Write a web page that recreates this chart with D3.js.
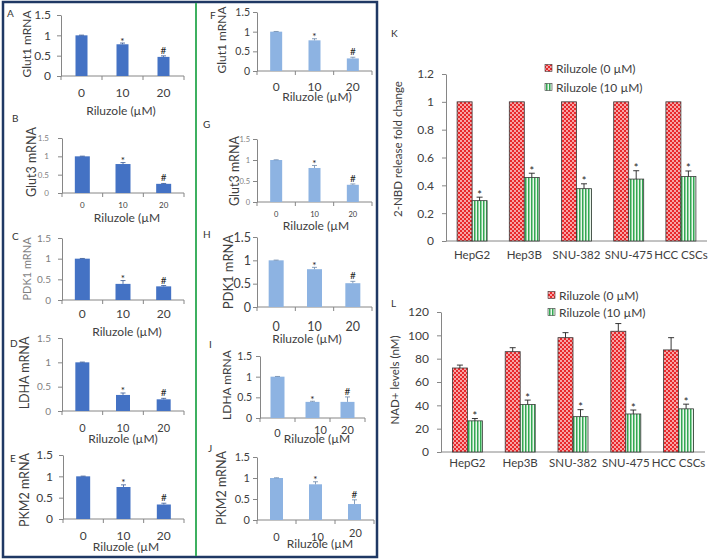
<!DOCTYPE html>
<html>
<head>
<meta charset="utf-8">
<script src="https://cdn.jsdelivr.net/npm/d3@7"></script>
<style>
  body { margin: 0; background: #fff; }
  svg { display: block; font-family: Lato, "Liberation Sans", sans-serif; }
</style>
</head>
<body>
<svg id="fig" width="709" height="559"></svg>
<script>
// x categories of the mRNA panels
var doses = ["0", "10", "20"];
var sigMarks = ["", "*", "#"];

// mRNA fold values, panels A-E (left column)
var glut1A = [1, 0.78, 0.47], glut1AErr = [0.005, 0.03, 0.025];
var glut3B = [1, 0.79, 0.25], glut3BErr = [0.005, 0.04, 0.01];
var pdk1C = [1, 0.39, 0.33], pdk1CErr = [0.005, 0.08, 0.02];
var ldhaD = [1, 0.33, 0.24], ldhaDErr = [0.005, 0.04, 0.02];
var pkm2E = [1, 0.75, 0.34], pkm2EErr = [0.005, 0.05, 0.03];

// panels F-J (right column)
var glut1F = [1, 0.78, 0.32], glut1FErr = [0.005, 0.04, 0.03];
var glut3G = [1, 0.81, 0.41], glut3GErr = [0.005, 0.06, 0.02];
var pdk1H = [1, 0.81, 0.51], pdk1HErr = [0.005, 0.04, 0.04];
var ldhaI = [1, 0.39, 0.39], ldhaIErr = [0.005, 0.015, 0.12];
var pkm2J = [1, 0.85, 0.38], pkm2JErr = [0.005, 0.06, 0.1];

var mrnaTicks = [0, 0.5, 1, 1.5];

// panels K and L
var cells = ["HepG2", "Hep3B", "SNU-382", "SNU-475", "HCC CSCs"];
var seriesNames = ["Riluzole (0 \u00b5M)", "Riluzole (10 \u00b5M)"];
var nbdCtrl = [1, 1, 1, 1, 1], nbdCtrlErr = [0, 0, 0, 0, 0];
var nbdRil = [0.29, 0.457, 0.376, 0.445, 0.463], nbdRilErr = [0.025, 0.03, 0.035, 0.06, 0.04];
var nbdTicks = [0, 0.2, 0.4, 0.6, 0.8, 1, 1.2];
var nadCtrl = [72, 86, 98, 103.5, 87.5], nadCtrlErr = [2.5, 3.4, 4.3, 6.6, 10.5];
var nadRil = [26.7, 40.8, 30.3, 32.6, 37], nadRilErr = [2, 3.7, 6, 3.4, 4];
var nadTicks = [0, 20, 40, 60, 80, 100, 120];

var BLUE = "#4472c4", LIGHT = "#8db3e2", AXIS = "#868686";
var DARK = "#404040", GRAY = "#7f7f7f";

var svg = d3.select("#fig");

// bar fill patterns for K and L
var defs = svg.append("defs");
var pr = defs.append("pattern").attr("id", "redDots").attr("patternUnits", "userSpaceOnUse")
    .attr("width", 4).attr("height", 4);
pr.append("rect").attr("width", 4).attr("height", 4).attr("fill", "#e8282b");
pr.append("circle").attr("cx", 1).attr("cy", 1).attr("r", 0.9).attr("fill", "#ffe0e0");
pr.append("circle").attr("cx", 3).attr("cy", 3).attr("r", 0.9).attr("fill", "#ffe0e0");
var pg = defs.append("pattern").attr("id", "greenLines").attr("patternUnits", "userSpaceOnUse")
    .attr("width", 3).attr("height", 3);
pg.append("rect").attr("width", 3).attr("height", 3).attr("fill", "#eaf7ec");
pg.append("rect").attr("width", 1.5).attr("height", 3).attr("fill", "#33a852");

// frame around A-J and the green divider
svg.append("rect").attr("x", 3).attr("y", 2).attr("width", 374).attr("height", 555)
    .attr("fill", "none").attr("stroke", "#1f3864").attr("stroke-width", 2.5);
svg.append("line").attr("x1", 196).attr("x2", 196).attr("y1", 3).attr("y2", 556)
    .attr("stroke", "#3db060").attr("stroke-width", 2);

var smallPanels = [
    {id: "A", vals: glut1A, err: glut1AErr, ylab: "Glut1 mRNA", color: BLUE,
     lx: 7, ly: 17, x0: 61, x1: 184, y0: 76, y15: 15, bw: 12, ytf: 12, tpad: 6, ytCol: DARK,
     ylx: 27, yly: 44, yfs: 12, ylCol: DARK, xtf: 12, xty: 97, xlab: "Riluzole (\u00b5M)", xlx: 121, xly: 115},
    {id: "B", vals: glut3B, err: glut3BErr, ylab: "Glut3 mRNA", color: BLUE,
     lx: 12, ly: 122, x0: 62, x1: 184, y0: 193, y15: 138, bw: 15, ytf: 8, tpad: 9, ytCol: GRAY,
     ylx: 32, yly: 162, yfs: 12.5, ylCol: DARK, xtf: 8, xty: 208, xlab: "Riluzole (\u00b5M", xlx: 127, xly: 222},
    {id: "C", vals: pdk1C, err: pdk1CErr, ylab: "PDK1 mRNA", color: BLUE,
     lx: 12, ly: 240, x0: 62, x1: 184, y0: 300, y15: 238, bw: 15, ytf: 10, tpad: 7, ytCol: GRAY,
     ylx: 27, yly: 269, yfs: 11, ylCol: GRAY, xtf: 12, xty: 318, xlab: "Riluzole (\u00b5M)", xlx: 127, xly: 336},
    {id: "D", vals: ldhaD, err: ldhaDErr, ylab: "LDHA mRNA", color: BLUE,
     lx: 10, ly: 347, x0: 62, x1: 184, y0: 411, y15: 338, bw: 14, ytf: 10, tpad: 7, ytCol: GRAY,
     ylx: 25, yly: 373, yfs: 12.5, ylCol: DARK, xtf: 11, xty: 432, xlab: "Riluzole (\u00b5M)", xlx: 123, xly: 443},
    {id: "E", vals: pkm2E, err: pkm2EErr, ylab: "PKM2 mRNA", color: BLUE,
     lx: 10, ly: 462, x0: 63, x1: 184, y0: 519, y15: 455, bw: 14, ytf: 12, tpad: 6, ytCol: DARK,
     ylx: 25, yly: 490, yfs: 12.5, ylCol: DARK, xtf: 12, xty: 540, xlab: "Riluzole (\u00b5M", xlx: 126, xly: 551},
    {id: "F", vals: glut1F, err: glut1FErr, ylab: "Glut1 mRNA", color: LIGHT,
     lx: 210, ly: 19, x0: 257, x1: 372, y0: 71, y15: 12, bw: 12, ytf: 10.5, tpad: 3, ytCol: DARK,
     ylx: 222, yly: 40, yfs: 12, ylCol: DARK, xtf: 12, xty: 91, xlab: "Riluzole (\u00b5M)", xlx: 317, xly: 101},
    {id: "G", vals: glut3G, err: glut3GErr, ylab: "Glut3 mRNA", color: LIGHT,
     lx: 203, ly: 128, x0: 257, x1: 372, y0: 202, y15: 139, bw: 12, ytf: 7.5, tpad: 3, ytCol: GRAY,
     ylx: 235, yly: 171, yfs: 12.5, ylCol: DARK, xtf: 7.5, xty: 217, xlab: "Riluzole (\u00b5M", xlx: 316, xly: 230},
    {id: "H", vals: pdk1H, err: pdk1HErr, ylab: "PDK1 mRNA", color: LIGHT,
     lx: 203, ly: 238, x0: 257, x1: 372, y0: 307, y15: 237, bw: 15, ytf: 12.5, tpad: 2, ytCol: DARK,
     ylx: 228, yly: 272, yfs: 13, ylCol: DARK, xtf: 12.5, xty: 331, xlab: "Riluzole (\u00b5M)", xlx: 307, xly: 343},
    {id: "I", vals: ldhaI, err: ldhaIErr, ylab: "LDHA mRNA", color: LIGHT,
     lx: 209, ly: 348, x0: 260, x1: 365, y0: 418, y15: 356, bw: 14, ytf: 10.5, tpad: 4, ytCol: DARK,
     ylx: 227, yly: 385, yfs: 12, ylCol: DARK, xtf: 11, xty: 437, xtdx: [0, 8, 0], xtdy: [0, -3, -3],
     xlab: "Riluzole (\u00b5M", xlx: 317, xly: 443},
    {id: "J", vals: pkm2J, err: pkm2JErr, ylab: "PKM2 mRNA", color: LIGHT,
     lx: 208, ly: 452, x0: 257, x1: 374, y0: 520, y15: 457, bw: 13, ytf: 11, tpad: 3, ytCol: DARK,
     ylx: 222, yly: 488, yfs: 12.5, ylCol: DARK, xtf: 11, xty: 541, xtdx: [0, 2, 1], xtdy: [0, 0, -4],
     xlab: "Riluzole (\u00b5M", xlx: 320, xly: 548}
];

function styleAxis(ax, fs, col) {
    ax.attr("font-family", null).attr("font-size", null);
    ax.select(".domain").attr("stroke", AXIS);
    ax.selectAll(".tick line").attr("stroke", AXIS);
    ax.selectAll(".tick text").attr("fill", col).style("font-size", fs + "px");
}

function markY(m, top) {
    // '*' sits high in the em box, '#' sits on the baseline
    return m === "*" ? top + 1.5 : top - 2;
}

function drawSmall(p) {
    var g = svg.append("g");
    var x = d3.scaleBand().domain(doses).range([p.x0, p.x1]);
    var y = d3.scaleLinear().domain([0, 1.5]).range([p.y0, p.y15]);
    var dark = d3.color(p.color).darker(0.8);

    g.append("text").attr("x", p.lx).attr("y", p.ly).attr("fill", "#333")
        .style("font-size", "10px").text(p.id);

    var ya = g.append("g").attr("transform", "translate(" + p.x0 + ",0)")
        .call(d3.axisLeft(y).tickValues(mrnaTicks).tickFormat(function (d) { return String(d); })
            .tickSize(4).tickSizeOuter(0).tickPadding(p.tpad));
    styleAxis(ya, p.ytf, p.ytCol);

    // x axis line with ticks on the band edges
    g.append("line").attr("x1", p.x0).attr("x2", p.x1).attr("y1", p.y0).attr("y2", p.y0)
        .attr("stroke", AXIS);
    g.selectAll(".xt").data(d3.range(doses.length + 1)).enter().append("line")
        .attr("x1", function (i) { return p.x0 + i * x.step(); })
        .attr("x2", function (i) { return p.x0 + i * x.step(); })
        .attr("y1", p.y0).attr("y2", p.y0 + 4).attr("stroke", AXIS);

    g.selectAll(".xl").data(doses).enter().append("text")
        .attr("x", function (d, i) { return x(d) + x.bandwidth() / 2 + (p.xtdx ? p.xtdx[i] : 0); })
        .attr("y", function (d, i) { return p.xty + (p.xtdy ? p.xtdy[i] : 0); })
        .attr("text-anchor", "middle").attr("fill", DARK).style("font-size", p.xtf + "px")
        .text(function (d) { return d; });

    g.selectAll(".bar").data(p.vals).enter().append("rect")
        .attr("x", function (d, i) { return x(doses[i]) + (x.bandwidth() - p.bw) / 2; })
        .attr("width", p.bw)
        .attr("y", function (d) { return y(d); })
        .attr("height", function (d) { return p.y0 - y(d); })
        .attr("fill", p.color);

    p.vals.forEach(function (v, i) {
        var cx = x(doses[i]) + x.bandwidth() / 2;
        var top = y(v + p.err[i]);
        g.append("line").attr("x1", cx).attr("x2", cx).attr("y1", y(v)).attr("y2", top)
            .attr("stroke", dark).attr("stroke-width", 0.8);
        g.append("line").attr("x1", cx - 2.5).attr("x2", cx + 2.5).attr("y1", top).attr("y2", top)
            .attr("stroke", dark).attr("stroke-width", 0.8);
        if (sigMarks[i]) {
            g.append("text").attr("x", cx).attr("y", markY(sigMarks[i], top))
                .attr("text-anchor", "middle").attr("fill", "#222").style("font-size", "10px")
                .text(sigMarks[i]);
        }
    });

    g.append("text")
        .attr("transform", "translate(" + p.ylx + "," + p.yly + ") rotate(-90)")
        .attr("dy", "0.35em").attr("text-anchor", "middle").attr("fill", p.ylCol)
        .style("font-size", p.yfs + "px").text(p.ylab);

    g.append("text").attr("x", p.xlx).attr("y", p.xly).attr("text-anchor", "middle")
        .attr("fill", DARK).style("font-size", "12px").text(p.xlab);
}

smallPanels.forEach(drawSmall);

var groupPanels = [
    {id: "K", ctrl: nbdCtrl, ctrlErr: nbdCtrlErr, ril: nbdRil, rilErr: nbdRilErr, ticks: nbdTicks,
     ylab: "2-NBD release fold change", lx: 391, ly: 37, x0: 446, x1: 707, y0: 241, ytop: 74,
     ylx: 398, yly: 149, xty: 259, legX: 545, legY: [68, 87]},
    {id: "L", ctrl: nadCtrl, ctrlErr: nadCtrlErr, ril: nadRil, rilErr: nadRilErr, ticks: nadTicks,
     ylab: "NAD+ levels (nM)", lx: 391, ly: 307, x0: 441, x1: 705, y0: 452, ytop: 312,
     ylx: 395, yly: 380, xty: 467, legX: 548, legY: [295, 312]}
];

function drawGrouped(c) {
    var g = svg.append("g");
    var x = d3.scaleBand().domain(cells).range([c.x0, c.x1]);
    var ymax = c.ticks[c.ticks.length - 1];
    var y = d3.scaleLinear().domain([0, ymax]).range([c.y0, c.ytop]);
    var bw = 15;

    g.append("text").attr("x", c.lx).attr("y", c.ly).attr("fill", "#333")
        .style("font-size", "10px").text(c.id);

    var ya = g.append("g").attr("transform", "translate(" + c.x0 + ",0)")
        .call(d3.axisLeft(y).tickValues(c.ticks).tickFormat(function (d) { return String(d); })
            .tickSize(4).tickSizeOuter(0).tickPadding(8));
    styleAxis(ya, 12, DARK);

    g.append("line").attr("x1", c.x0).attr("x2", c.x1).attr("y1", c.y0).attr("y2", c.y0)
        .attr("stroke", AXIS);

    g.selectAll(".cl").data(cells).enter().append("text")
        .attr("x", function (d) { return x(d) + x.bandwidth() / 2; })
        .attr("y", c.xty).attr("text-anchor", "middle").attr("fill", DARK)
        .style("font-size", "11.5px").text(function (d) { return d; });

    var series = [
        {vals: c.ctrl, err: c.ctrlErr, fill: "url(#redDots)", dx: -bw, mark: ""},
        {vals: c.ril, err: c.rilErr, fill: "url(#greenLines)", dx: 0, mark: "*"}
    ];
    series.forEach(function (s) {
        s.vals.forEach(function (v, i) {
            var bx = x(cells[i]) + x.bandwidth() / 2 + s.dx;
            g.append("rect").attr("x", bx).attr("width", bw)
                .attr("y", y(v)).attr("height", c.y0 - y(v))
                .attr("fill", s.fill).attr("stroke", "#3a3a3a").attr("stroke-width", 0.8);
            var cx = bx + bw / 2;
            if (s.err[i] > 0) {
                var top = y(v + s.err[i]);
                g.append("line").attr("x1", cx).attr("x2", cx).attr("y1", y(v)).attr("y2", top)
                    .attr("stroke", "#222").attr("stroke-width", 0.9);
                g.append("line").attr("x1", cx - 3).attr("x2", cx + 3).attr("y1", top).attr("y2", top)
                    .attr("stroke", "#222").attr("stroke-width", 0.9);
            }
            if (s.mark) {
                g.append("text").attr("x", cx).attr("y", markY(s.mark, y(v + s.err[i])))
                    .attr("text-anchor", "middle").attr("fill", "#222").style("font-size", "11px")
                    .text(s.mark);
            }
        });
    });

    // legend
    var fills = ["url(#redDots)", "url(#greenLines)"];
    seriesNames.forEach(function (name, i) {
        g.append("rect").attr("x", c.legX).attr("y", c.legY[i] - 3.5).attr("width", 7).attr("height", 7)
            .attr("fill", fills[i]).attr("stroke", "#3a3a3a").attr("stroke-width", 0.6);
        g.append("text").attr("x", c.legX + 11).attr("y", c.legY[i] + 4.5).attr("fill", DARK)
            .style("font-size", "12px").text(name);
    });

    g.append("text")
        .attr("transform", "translate(" + c.ylx + "," + c.yly + ") rotate(-90)")
        .attr("dy", "0.35em").attr("text-anchor", "middle").attr("fill", DARK)
        .style("font-size", "11.5px").text(c.ylab);
}

groupPanels.forEach(drawGrouped);
</script>
</body>
</html>
